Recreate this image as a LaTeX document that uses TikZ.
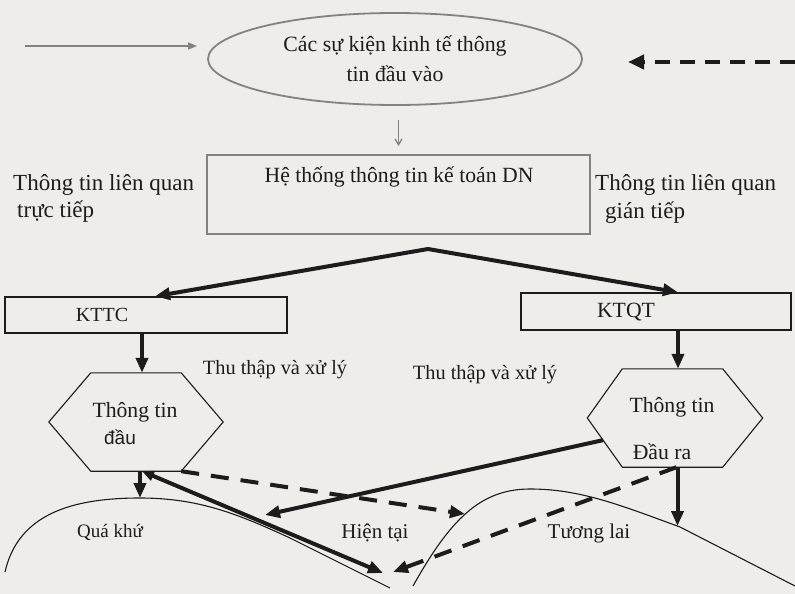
\documentclass[tikz,border=0pt]{standalone}
\usepackage{fontspec}
\setmainfont{Liberation Serif}
\newfontfamily\labsans{Liberation Sans}
\usetikzlibrary{arrows.meta,shapes.geometric,calc}

\definecolor{paper}{RGB}{238,237,233}
\definecolor{ink}{RGB}{28,28,28}
\definecolor{pencil}{RGB}{130,130,130}

\begin{document}
\begin{tikzpicture}[x=1pt,y=-1pt,
  txt/.style={inner sep=0pt, text=ink, font=\fontsize{21.7}{26}\selectfont},
  side/.style={inner sep=0pt, text=ink, font=\fontsize{23}{27}\selectfont},
  lbl/.style={inner sep=0pt, text=ink, font=\fontsize{20.5}{24}\selectfont},
  greyline/.style={draw=pencil, line width=1.8pt},
  boxline/.style={draw=ink, line width=1.4pt, inner sep=0pt},
  heavy/.style={draw=ink, line width=4pt, line join=round, -{Triangle[length=15pt,width=12pt]}},
  heavydash/.style={heavy, dash pattern=on 18pt off 12pt},
  hexline/.style={draw=ink, line width=1.1pt, line join=miter},
  curveline/.style={draw=ink, line width=1.1pt},
]
% page
\fill[paper] (0,0) rectangle (795,594);
\useasboundingbox (0,0) rectangle (795,594);

% --- input events ellipse and the two incoming arrows
\node[ellipse, greyline, minimum width=374pt, minimum height=92pt, inner sep=0pt,
      align=center, text=ink, font=\fontsize{21.8}{30}\selectfont] (ev) at (395,59)
      {Các sự kiện kinh tế thông\\tin đầu vào};
\coordinate (inL) at (25,46);
\coordinate (inLend) at (197,46);
\draw[greyline, line width=1.5pt, -{Triangle[length=9pt,width=7pt]}] (inL) -- (inLend);
\coordinate (inR) at (795,62);
\coordinate (inRend) at (628,62);
\draw[draw=ink, line width=4pt, dash pattern=on 15pt off 10pt,
      -{Triangle[length=16pt,width=14pt]}] (inR) -- (inRend);

% --- accounting information system
\node[draw=pencil, line width=1.8pt, minimum width=383pt, minimum height=79pt, inner sep=0pt]
      (hts) at (398.5,194.5) {};
\node[txt] (htsT) at (399,177) {Hệ thống thông tin kế toán DN};
\draw[greyline, line width=1.3pt, shorten <=14pt, shorten >=8pt,
      -{Straight Barb[length=6pt,width=7pt]}] (ev.south -| hts.north) -- (hts.north);

\node[side, anchor=west] (dirA) at (13,185) {Thông tin liên quan};
\node[side, anchor=west] (dirB) at (17,212) {trực tiếp};
\node[side, anchor=west] (indA) at (595,185) {Thông tin liên quan};
\node[side, anchor=west] (indB) at (605,213) {gián tiếp};

% --- financial / management accounting
\node[boxline, minimum width=282pt, minimum height=36pt] (kttc) at (146,315) {};
\node[txt, font=\fontsize{20}{24}\selectfont] (kttcT) at (102,315) {KTTC};
\node[boxline, minimum width=270pt, minimum height=37pt] (ktqt) at (656,311.5) {};
\node[txt] (ktqtT) at (626,312) {KTQT};

\coordinate (apex) at (428,249);
\draw[heavy, {Triangle[length=15pt,width=12pt]}-{Triangle[length=15pt,width=12pt]}]
      ([xshift=9pt]kttc.north) -- (apex) -- ([xshift=22pt]ktqt.north);

% --- information hexagons
\node[minimum width=90pt, minimum height=98pt, inner sep=0pt] (hexL) at (136,422) {};
\draw[hexline] (hexL.north west) -- (hexL.north east) -- ([xshift=42pt]hexL.east)
      -- (hexL.south east) -- (hexL.south west) -- ([xshift=-42pt]hexL.west) -- cycle;
\node[txt] (hexLa) at (135,412) {Thông tin};
\node[inner sep=0pt, text=ink, font=\labsans\fontsize{19}{22}\selectfont] (hexLb) at (120,437) {đầu};

\node[minimum width=100pt, minimum height=98pt, inner sep=0pt] (hexR) at (672.5,418) {};
\draw[hexline] (hexR.north west) -- (hexR.north east) -- ([xshift=40pt]hexR.east)
      -- (hexR.south east) -- (hexR.south west) -- ([xshift=-35pt]hexR.west) -- cycle;
\node[txt] (hexRa) at (672,407) {Thông tin};
\node[txt] (hexRb) at (662,452) {Đầu ra};

\draw[heavy] ([xshift=-4pt]kttc.south) -- ([xshift=-4pt]kttc.south |- hexL.north);
\draw[heavy] ([xshift=22pt]ktqt.south) -- ([xshift=22pt]ktqt.south |- hexR.north);

\node[lbl, font=\fontsize{20.3}{24}\selectfont] (procL) at (275,370) {Thu thập và xử lý};
\node[lbl, font=\fontsize{20.3}{24}\selectfont] (procR) at (485,375) {Thu thập và xử lý};

% --- time line: past / present / future
\draw[curveline] (5,572) .. controls (18,515) and (70,498) .. (140,498)
      .. controls (200,498) and (240,515) .. (290,538) -- (390,588);
\draw[curveline] (413,586) .. controls (450,520) and (480,489) .. (530,489)
      .. controls (580,489) and (620,505) .. (680,527) -- (795,586);

\node[lbl, font=\fontsize{19}{24}\selectfont] (past) at (110,532) {Quá khứ};
\node[lbl, font=\fontsize{21}{24}\selectfont] (now) at (375,533) {Hiện tại};
\node[lbl, font=\fontsize{21}{24}\selectfont] (fut) at (589,533) {Tương lai};

\coordinate (pastTop) at (140,498);
\coordinate (futTop) at (677.5,526);
\coordinate (meetL) at (383,573);
\coordinate (meetR) at (393,572);
\coordinate (nowIn) at (265,515);
\coordinate (futIn) at (465,514);

\draw[heavy] ([xshift=4pt]hexL.south) -- (pastTop);
\draw[heavy, {Triangle[length=12pt,width=10pt]}-{Triangle[length=15pt,width=12pt]}]
      ([xshift=6pt]hexL.south) -- (meetL);
\draw[heavydash] (hexL.south east) -- (futIn);
\draw[heavy] ($(hexR.south west)!0.55!([xshift=-35pt]hexR.west)$) -- (nowIn);
\draw[heavy] ([xshift=5pt]hexR.south) -- (futTop);
\draw[heavydash] ([xshift=4pt]hexR.south) -- (meetR);
\end{tikzpicture}
\end{document}
